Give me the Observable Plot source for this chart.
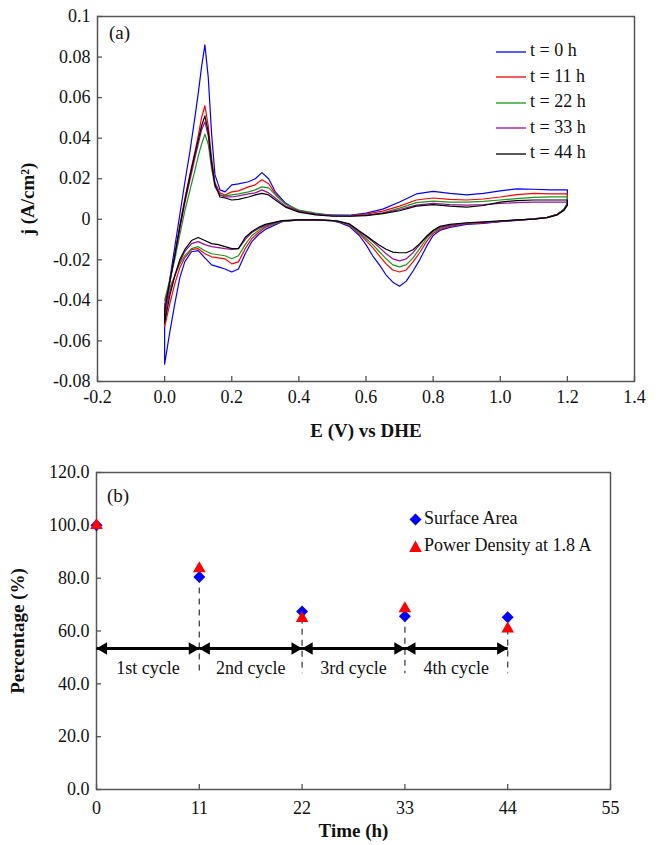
<!DOCTYPE html>
<html><head><meta charset="utf-8">
<script src="https://cdn.jsdelivr.net/npm/d3@7"></script>
<script src="https://cdn.jsdelivr.net/npm/@observablehq/plot@0.6"></script>
<style>
body{margin:0;background:#fff;font-family:"Liberation Serif","Times New Roman",serif;}
#wrap{position:relative;width:659px;height:845px;overflow:hidden;}
#topc{position:absolute;left:0;top:0;}
#botc{position:absolute;left:0;top:445px;}
.ov{position:absolute;font-size:18px;color:#111;white-space:nowrap;line-height:20px;}
.ov svg{vertical-align:middle;}
.tag{font-size:19px;}
g[aria-label="x-axis label"] text, g[aria-label="y-axis label"] text{font-weight:bold;font-size:19px;}
</style>
</head><body>
<div id="wrap"><div id="topc"></div><div id="botc"></div></div>
<script>
// ---------- Panel (a): cyclic voltammograms ----------
const series = ["t = 0 h","t = 11 h","t = 22 h","t = 33 h","t = 44 h"];
const colors = ["#0000ff","#ff0000","#1a961a","#990f99","#000000"];
const xTicksA = [-0.2,0.0,0.2,0.4,0.6,0.8,1.0,1.2,1.4];
const yTicksA = [-0.08,-0.06,-0.04,-0.02,0,0.02,0.04,0.06,0.08,0.1];

const anodicE = [0,0.015,0.03,0.045,0.06,0.075,0.09,0.1,0.11,0.12,0.13,0.14,0.15,0.165,0.18,0.2,0.22,0.25,0.27,0.29,0.31,0.33,0.36,0.4,0.45,0.5,0.55,0.6,0.65,0.7,0.75,0.8,0.85,0.9,0.95,1.0,1.05,1.1,1.15,1.2];
const anodic_t0  = [-0.05,-0.03,-0.014,0.002,0.018,0.033,0.05,0.062,0.075,0.086,0.07,0.042,0.022,0.0145,0.0135,0.017,0.0175,0.0185,0.02,0.023,0.02,0.0135,0.008,0.004,0.0025,0.002,0.002,0.003,0.005,0.0085,0.0125,0.0138,0.0128,0.012,0.0128,0.014,0.015,0.0148,0.0145,0.0145];
const anodic_t11 = [-0.048,-0.032,-0.018,-0.003,0.01,0.022,0.033,0.041,0.05,0.056,0.046,0.03,0.018,0.013,0.012,0.0135,0.014,0.016,0.017,0.0195,0.0175,0.0125,0.0075,0.004,0.0025,0.0018,0.0018,0.0025,0.004,0.0065,0.0095,0.0105,0.0098,0.0095,0.01,0.011,0.0122,0.0128,0.0125,0.0125];
const anodic_t22 = [-0.04,-0.03,-0.02,-0.008,0.004,0.014,0.024,0.031,0.037,0.042,0.037,0.025,0.016,0.012,0.0115,0.012,0.0125,0.0135,0.0145,0.016,0.0155,0.012,0.0075,0.0045,0.003,0.002,0.0018,0.002,0.0032,0.0055,0.0082,0.009,0.0085,0.0085,0.0088,0.0095,0.0102,0.0108,0.011,0.011];
const anodic_t33 = [-0.042,-0.031,-0.018,-0.005,0.008,0.019,0.03,0.037,0.044,0.048,0.041,0.027,0.017,0.012,0.011,0.011,0.0115,0.0125,0.013,0.0145,0.013,0.0105,0.0065,0.004,0.0025,0.0018,0.0016,0.002,0.003,0.0048,0.007,0.0078,0.0072,0.007,0.0072,0.0078,0.0082,0.0085,0.0085,0.0085];
const anodic_t44 = [-0.045,-0.031,-0.018,-0.004,0.009,0.021,0.032,0.039,0.046,0.051,0.043,0.028,0.017,0.011,0.0105,0.0095,0.0098,0.011,0.012,0.0128,0.012,0.0095,0.006,0.0035,0.0022,0.0015,0.0015,0.0018,0.0028,0.0042,0.0065,0.0072,0.0065,0.006,0.0068,0.0085,0.0092,0.0095,0.0095,0.0095];

const cathodicE = [1.2,1.19,1.17,1.14,1.1,1.05,1.0,0.95,0.9,0.85,0.82,0.8,0.78,0.76,0.74,0.72,0.7,0.68,0.66,0.64,0.62,0.6,0.58,0.55,0.52,0.5,0.45,0.4,0.35,0.3,0.28,0.26,0.24,0.22,0.2,0.18,0.16,0.14,0.12,0.1,0.08,0.06,0.045,0.03,0.015,0];
const cathodic_t0  = [0.008,0.005,0.0025,0.001,0.0002,-0.0005,-0.0012,-0.002,-0.0025,-0.004,-0.0055,-0.008,-0.0135,-0.02,-0.0255,-0.0305,-0.033,-0.031,-0.0275,-0.0225,-0.018,-0.0125,-0.008,-0.0035,-0.0015,-0.0008,-0.0003,-0.0003,-0.0012,-0.005,-0.0075,-0.011,-0.017,-0.0245,-0.026,-0.0245,-0.0235,-0.0225,-0.019,-0.0155,-0.016,-0.021,-0.029,-0.042,-0.056,-0.0715];
const cathodic_t11 = [0.0075,0.005,0.0025,0.001,0.0002,-0.0004,-0.001,-0.0018,-0.0022,-0.0035,-0.005,-0.007,-0.011,-0.0165,-0.021,-0.025,-0.026,-0.025,-0.022,-0.018,-0.014,-0.0105,-0.007,-0.003,-0.0012,-0.0007,-0.0003,-0.0003,-0.001,-0.004,-0.0065,-0.0095,-0.0145,-0.021,-0.022,-0.0195,-0.019,-0.0185,-0.017,-0.0145,-0.015,-0.019,-0.024,-0.032,-0.042,-0.053];
const cathodic_t22 = [0.0075,0.005,0.0025,0.001,0.0002,-0.0004,-0.001,-0.0016,-0.002,-0.0032,-0.0045,-0.0062,-0.0095,-0.0145,-0.019,-0.0225,-0.0235,-0.0225,-0.0195,-0.016,-0.0125,-0.0095,-0.0065,-0.0028,-0.0012,-0.0007,-0.0003,-0.0003,-0.001,-0.0035,-0.0055,-0.008,-0.0125,-0.018,-0.0195,-0.018,-0.0175,-0.017,-0.0155,-0.0135,-0.0145,-0.018,-0.022,-0.028,-0.034,-0.04];
const cathodic_t33 = [0.007,0.0045,0.0022,0.0008,0.0001,-0.0004,-0.001,-0.0015,-0.0019,-0.003,-0.004,-0.0055,-0.0085,-0.0125,-0.0165,-0.0195,-0.0205,-0.0195,-0.017,-0.014,-0.011,-0.0085,-0.006,-0.0025,-0.0011,-0.0006,-0.0003,-0.0003,-0.0008,-0.003,-0.0045,-0.0065,-0.01,-0.0145,-0.0148,-0.0145,-0.014,-0.0135,-0.0125,-0.011,-0.012,-0.016,-0.021,-0.028,-0.036,-0.046];
const cathodic_t44 = [0.007,0.0045,0.0022,0.0008,0.0001,-0.0003,-0.0008,-0.0013,-0.0017,-0.0025,-0.0035,-0.0055,-0.0085,-0.012,-0.015,-0.0165,-0.0165,-0.0162,-0.0148,-0.0128,-0.0105,-0.008,-0.0058,-0.0022,-0.001,-0.0006,-0.0003,-0.0003,-0.0007,-0.0025,-0.004,-0.006,-0.009,-0.0145,-0.0145,-0.0135,-0.0125,-0.012,-0.0105,-0.009,-0.0105,-0.015,-0.02,-0.028,-0.038,-0.051];

// ---------- Panel (b): percentage vs time ----------
const times = [0, 11, 22, 33, 44];
const surfaceArea = [100, 80.4, 67.4, 65.6, 65.2];
const powerDensity = [100, 83.6, 64.8, 68.5, 60.8];
const timeTicks = [0, 11, 22, 33, 44, 55];
const pctTicks = [0, 20, 40, 60, 80, 100, 120];
const cycleLabels = ["1st cycle", "2nd cycle", "3rd cycle", "4th cycle"];
const cycleStart = [0, 11, 22, 33];
const cycleEnd = [11, 22, 33, 44];
const arrowLevel = 53.4;
const cycleLabelLevel = 45.8;
const dashBottom = 43.8;
const legendB = ["Surface Area", "Power Density at 1.8 A"];

// ---------- build panel (a) ----------
const anodic = [anodic_t0, anodic_t11, anodic_t22, anodic_t33, anodic_t44];
const cathodic = [cathodic_t0, cathodic_t11, cathodic_t22, cathodic_t33, cathodic_t44];
const cvRows = series.flatMap((s, k) => {
  const pts = [{s, E: 0, j: cathodic[k][cathodic[k].length - 1]}];
  anodicE.forEach((E, i) => pts.push({s, E, j: anodic[k][i]}));
  cathodicE.forEach((E, i) => pts.push({s, E, j: cathodic[k][i]}));
  return pts;
});

const W = 659;
const topPlot = Plot.plot({
  width: W, height: 445,
  marginLeft: 97, marginRight: 25, marginTop: 16, marginBottom: 64,
  style: {fontFamily: "Liberation Serif, Times New Roman, serif", fontSize: "18px", color: "#111", background: "#fff"},
  x: {domain: [-0.2, 1.4]},
  y: {domain: [-0.08, 0.1]},
  color: {domain: series, range: colors},
  marks: [
    Plot.line(cvRows, {x: "E", y: "j", z: "s", stroke: "s", strokeWidth: 1.2}),
    Plot.frame({stroke: "#555", strokeWidth: 1.5}),
    Plot.tickX(xTicksA, {x: d => d, insetTop: 360, stroke: "#555", strokeWidth: 1.3}),
    Plot.tickY(yTicksA, {y: d => d, insetRight: 532, stroke: "#555", strokeWidth: 1.3}),
    Plot.axisX(xTicksA, {tickSize: 0, tickPadding: 9, tickFormat: d => d.toFixed(1),
      label: "E (V) vs DHE", labelAnchor: "center", labelOffset: 55, labelArrow: "none"}),
    Plot.axisY(yTicksA, {tickSize: 0, tickPadding: 7, tickFormat: d => String(+d.toFixed(2)),
      label: "j (A/cm²)", labelAnchor: "center", labelOffset: 77, labelArrow: "none"})
  ]
});
document.getElementById("topc").appendChild(topPlot);

// ---------- build panel (b) ----------
const pointRows = times.map((t, i) => ({t, sa: surfaceArea[i], pd: powerDensity[i]}));
const dashRows = pointRows.slice(1).map(d => ({t: d.t, low: Math.min(d.sa, d.pd)}));
const cycRows = cycleLabels.map((label, i) => ({label, a: cycleStart[i], b: cycleEnd[i], m: (cycleStart[i] + cycleEnd[i]) / 2}));

const botPlot = Plot.plot({
  width: W, height: 400,
  marginLeft: 96, marginRight: 49, marginTop: 27, marginBottom: 56,
  style: {fontFamily: "Liberation Serif, Times New Roman, serif", fontSize: "18px", color: "#111", background: "#fff"},
  x: {domain: [0, 55]},
  y: {domain: [0, 120]},
  marks: [
    Plot.frame({stroke: "#555", strokeWidth: 1.5}),
    Plot.tickX(timeTicks, {x: d => d, insetTop: 312, stroke: "#555", strokeWidth: 1.3}),
    Plot.tickY(pctTicks, {y: d => d, insetRight: 509, stroke: "#555", strokeWidth: 1.3}),
    Plot.axisX(timeTicks, {tickSize: 0, tickPadding: 12, tickFormat: d => String(d),
      label: "Time (h)", labelAnchor: "center", labelOffset: 47, labelArrow: "none"}),
    Plot.axisY(pctTicks, {tickSize: 0, tickPadding: 7, tickFormat: d3.format(".1f"),
      label: "Percentage (%)", labelAnchor: "center", labelOffset: 86, labelArrow: "none"}),
    Plot.ruleX(dashRows, {x: "t", y1: "low", y2: dashBottom, stroke: "#444", strokeWidth: 1.3, strokeDasharray: "6,5"}),
    Plot.link(cycRows, {x1: "a", x2: "b", y1: arrowLevel, y2: arrowLevel, stroke: "#000", strokeWidth: 3}),
    Plot.dot(cycRows, {x: "b", y: arrowLevel, symbol: "triangle", rotate: 90, dx: -7, r: 4.6, fill: "#000", stroke: "none"}),
    Plot.dot(cycRows, {x: "a", y: arrowLevel, symbol: "triangle", rotate: -90, dx: 7, r: 4.6, fill: "#000", stroke: "none"}),
    Plot.text(cycRows, {x: "m", y: cycleLabelLevel, text: "label", fill: "#111"}),
    Plot.dot(pointRows, {x: "t", y: "sa", symbol: "diamond2", fill: "#0000ff", stroke: "none", r: 5.4}),
    Plot.dot(pointRows, {x: "t", y: "pd", symbol: "triangle", fill: "#ff0000", stroke: "none", r: 4.7})
  ]
});
document.getElementById("botc").appendChild(botPlot);

// ---------- overlays: panel tags and legends ----------
const wrap = document.getElementById("wrap");
function ov(html, left, top, cls) {
  const d = document.createElement("div");
  d.className = "ov" + (cls ? " " + cls : ""); d.style.left = left + "px"; d.style.top = top + "px";
  d.innerHTML = html; wrap.appendChild(d); return d;
}
ov("(a)", 109, 23, "tag");
ov("(b)", 107, 486, "tag");
series.forEach((s, i) => {
  ov(`<svg width="30" height="4" style="margin-right:4px"><line x1="0" y1="2" x2="30" y2="2" stroke="${colors[i]}" stroke-width="1.3"/></svg>${s}`,
     496, 40 + i * 25.5);
});
ov(`<svg width="13" height="13" style="margin-right:2px"><polygon points="6.5,0.5 12.5,6.5 6.5,12.5 0.5,6.5" fill="#0000ff"/></svg>${legendB[0]}`, 409, 508);
ov(`<svg width="13" height="13" style="margin-right:2px"><polygon points="6.5,0.5 12.8,12 0.2,12" fill="#ff0000"/></svg>${legendB[1]}`, 409, 535);
</script>
</body></html>
